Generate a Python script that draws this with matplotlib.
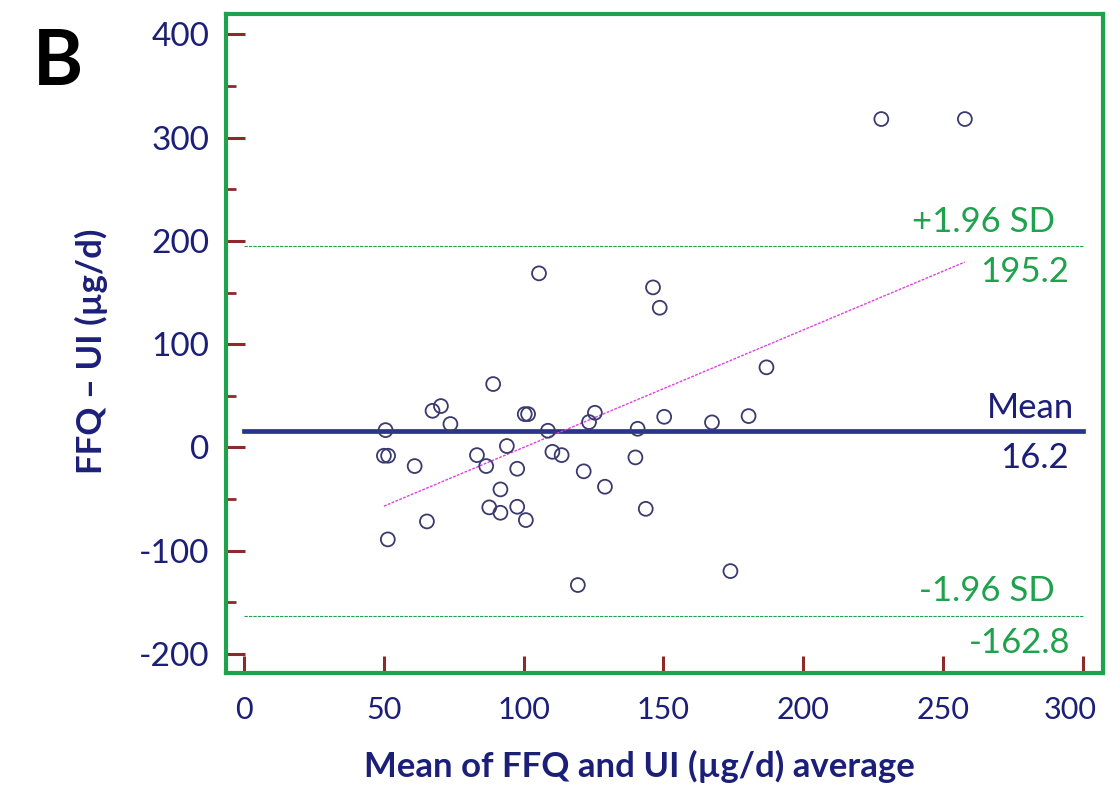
import numpy as np
import matplotlib
matplotlib.use("Agg")
from matplotlib import pyplot as plt
from matplotlib.ticker import MultipleLocator
from matplotlib.transforms import ScaledTranslation

plt.rcParams["axes.unicode_minus"] = False

# Bland-Altman data
mean_vals = [50.6, 50.0, 51.5, 51.4, 61.0, 65.4, 67.4, 70.4, 73.8, 83.3,
             86.6, 87.7, 89.1, 91.7, 91.7, 94.0, 97.7, 97.7, 100.4, 101.6,
             100.8, 105.5, 108.7, 110.3, 113.6, 119.4, 121.5, 123.4, 125.5, 129.1,
             140.0, 140.8, 143.7, 146.3, 148.7, 150.3, 167.4, 174.0, 180.5, 186.9,
             228.0, 257.9]
diff_vals = [16.8, -8.0, -8.0, -89.0, -18.0, -71.6, 35.5, 40.1, 22.7, -7.4,
             -18.0, -58.0, 61.4, -40.6, -63.2, 1.4, -20.6, -57.4, 32.3, 32.3,
             -70.3, 168.6, 16.2, -4.2, -7.4, -133.2, -23.1, 24.6, 33.6, -38.0,
             -9.6, 18.1, -59.4, 155.0, 135.3, 29.7, 24.3, -119.7, 30.4, 77.6,
             318.0, 318.0]
mean_diff = 16.2
upper_loa = 195.2
lower_loa = -162.8
line_span = [0, 300]
x_ticks = [0, 50, 100, 150, 200, 250, 300]
y_ticks = [-200, -100, 0, 100, 200, 300, 400]

navy = "#1c1f78"
green = "#1fa24c"
tick_red = "#8b2a2a"
font = "Lato"

fig = plt.figure(figsize=(11.2, 7.87), dpi=100)
ax = fig.add_axes([0.2018, 0.1452, 0.7827, 0.8366])

ax.scatter(mean_vals, diff_vals, s=100, facecolors="none", edgecolors="#3a3a6e",
           linewidths=1.3, zorder=4)

# regression of difference on mean
slope, intercept = np.polyfit(mean_vals, diff_vals, 1)
xr = np.array([min(mean_vals), max(mean_vals)])
ax.plot(xr, intercept + slope * xr, color="#e040e0", lw=1.0, ls=(0, (2, 1)), zorder=3)

ax.plot(line_span, [mean_diff, mean_diff], color="#2b3390", lw=3.4, zorder=2)
ax.plot(line_span, [upper_loa, upper_loa], color=green, lw=0.8, ls=(0, (3, 1)), zorder=2)
ax.plot(line_span, [lower_loa, lower_loa], color=green, lw=0.8, ls=(0, (3, 1)), zorder=2)

txt = dict(fontsize=25, family=font, textcoords="offset points", ha="right")
ax.annotate("Mean", (297, mean_diff), xytext=(0, 5), va="bottom", color=navy, **txt)
ax.annotate(f"{mean_diff:.1f}", (295, mean_diff), xytext=(0, -8), va="top", color=navy, **txt)
ax.annotate("+1.96 SD", (290, upper_loa), xytext=(0, 6), va="bottom", color=green, **txt)
ax.annotate(f"{upper_loa:.1f}", (295, upper_loa), xytext=(0, -7), va="top", color=green, **txt)
ax.annotate("-1.96 SD", (290, lower_loa), xytext=(0, 6), va="bottom", color=green, **txt)
ax.annotate(f"{lower_loa:.1f}", (295.5, lower_loa), xytext=(0, -8), va="top", color=green, **txt)

ax.set_xlim(-6.5, 307.2)
ax.set_ylim(-218.1, 419.4)
ax.set_xticks(x_ticks)
ax.set_yticks(y_ticks)
ax.yaxis.set_minor_locator(MultipleLocator(50))

for sp in ax.spines.values():
    sp.set_color(green)
    sp.set_linewidth(3.0)

ax.tick_params(axis="x", which="major", direction="in", length=12, width=2.2,
               color=tick_red, pad=17, labelsize=22, labelcolor=navy, top=False)
ax.tick_params(axis="y", which="major", direction="in", length=14, width=2.2,
               color=tick_red, pad=12, labelsize=24, labelcolor=navy, right=False)
ax.tick_params(axis="y", which="minor", direction="in", length=7, width=2.0,
               color=tick_red, right=False)
for lab in ax.get_xticklabels() + ax.get_yticklabels():
    lab.set_family(font)
# last x label sits a little left of its tick in the original
last = ax.get_xticklabels()[-1]
last.set_transform(last.get_transform() + ScaledTranslation(-0.12, 0, fig.dpi_scale_trans))

fig.text(0.5705, 0.026, "Mean of FFQ and UI (\u00b5g/d) average", fontsize=25,
         fontweight="bold", family=font, color=navy, ha="center", va="center")
fig.text(0.082, 0.553, "FFQ \u2013 UI (\u00b5g/d)", fontsize=25, fontweight="bold",
         family=font, color=navy, ha="center", va="center", rotation=90)
fig.text(0.029, 0.892, "B", fontsize=55, fontweight="bold", family=font,
         color="black", ha="left", va="baseline")

fig.savefig("out.png", dpi=100)
